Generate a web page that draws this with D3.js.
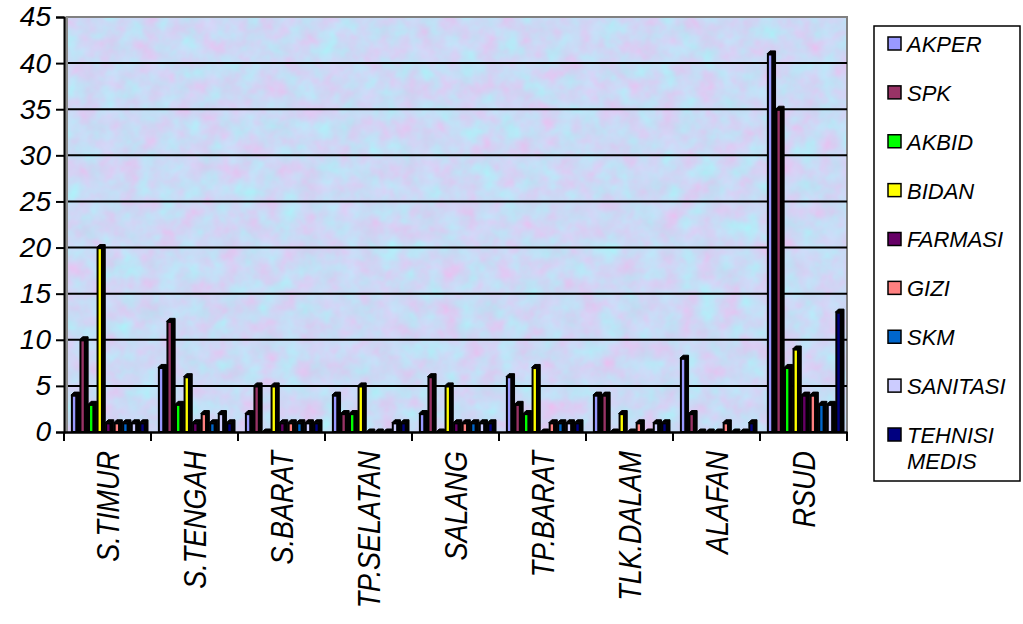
<!DOCTYPE html>
<html>
<head>
<meta charset="utf-8">
<script src="https://cdn.jsdelivr.net/npm/d3@7"></script>
<style>
  body { margin: 0; background: #fff; }
  svg { display: block; font-family: "Liberation Sans", Arial, sans-serif; }
</style>
</head>
<body>
<div id="chart"></div>
<script>
// kecamatan / unit
var categories = ["S.TIMUR", "S.TENGAH", "S.BARAT", "TP.SELATAN", "SALANG", "TP.BARAT", "TLK.DALAM", "ALAFAN", "RSUD"];
var seriesNames = ["AKPER", "SPK", "AKBID", "BIDAN", "FARMASI", "GIZI", "SKM", "SANITASI", "TEHNISI MEDIS"];
var seriesColors = ["#9999ff", "#993366", "#00ff00", "#ffff00", "#660066", "#ff8080", "#0066cc", "#ccccff", "#000080"];

// one array per series, in category order
var akper    = [4, 7, 2, 4, 2, 6, 4, 8, 41];
var spk      = [10, 12, 5, 2, 6, 3, 4, 2, 35];
var akbid    = [3, 3, 0, 2, 0, 2, 0, 0, 7];
var bidan    = [20, 6, 5, 5, 5, 7, 2, 0, 9];
var farmasi  = [1, 1, 1, 0, 1, 0, 0, 0, 4];
var gizi     = [1, 2, 1, 0, 1, 1, 1, 1, 4];
var skm      = [1, 1, 1, 0, 1, 1, 0, 0, 3];
var sanitasi = [1, 2, 1, 1, 1, 1, 1, 0, 3];
var tehnisi  = [1, 1, 1, 1, 1, 1, 1, 1, 13];
var yTicks = [0, 5, 10, 15, 20, 25, 30, 35, 40, 45];

var seriesValues = [akper, spk, akbid, bidan, farmasi, gizi, skm, sanitasi, tehnisi];

var W = 1023, H = 624;
var plot = {left: 64, right: 847, top: 17, bottom: 432};
var depth = 3;

var svg = d3.select("#chart").append("svg")
    .attr("width", W)
    .attr("height", H);

// mottled background texture
var defs = svg.append("defs");
var filt = defs.append("filter")
    .attr("id", "tex")
    .attr("x", 0).attr("y", 0).attr("width", "100%").attr("height", "100%")
    .attr("color-interpolation-filters", "sRGB");
filt.append("feTurbulence")
    .attr("type", "fractalNoise")
    .attr("baseFrequency", "0.05")
    .attr("numOctaves", 3)
    .attr("seed", 7);
filt.append("feColorMatrix")
    .attr("type", "matrix")
    .attr("values",
        "0.22 -0.12 0 0 0.745 " +
        "-0.14 0.14 0 0 0.850 " +
        "0 0.05 0 0 0.935 " +
        "0 0 0 0 1");

var x = d3.scaleBand()
    .domain(categories)
    .range([plot.left, plot.right]);

var xs = d3.scaleBand()
    .domain(seriesNames)
    .range([7, 84]);

var y = d3.scaleLinear()
    .domain([0, 45])
    .range([plot.bottom, plot.top]);

// plot background
svg.append("rect")
    .attr("x", plot.left + 3)
    .attr("y", plot.top)
    .attr("width", plot.right - plot.left - 3)
    .attr("height", plot.bottom - plot.top)
    .attr("filter", "url(#tex)");

// border: gray top/right, gray left wall
svg.append("path")
    .attr("d", "M" + (plot.left + 2) + "," + plot.top + "H" + plot.right + "V" + plot.bottom)
    .attr("fill", "none")
    .attr("stroke", "#808080")
    .attr("stroke-width", 2);
svg.append("rect")
    .attr("x", plot.left)
    .attr("y", plot.top)
    .attr("width", 4)
    .attr("height", plot.bottom - plot.top)
    .attr("fill", "#8c8c8c");

// gridlines
svg.append("g")
    .selectAll("line")
    .data(yTicks.filter(function(d) { return d > 0 && d < 45; }))
    .enter().append("line")
    .attr("x1", plot.left + 4)
    .attr("x2", plot.right)
    .attr("y1", function(d) { return y(d); })
    .attr("y2", function(d) { return y(d); })
    .attr("stroke", "#000")
    .attr("stroke-width", 2);

// y axis
var yAxis = d3.axisLeft(y)
    .tickValues(yTicks)
    .tickSize(8)
    .tickPadding(5);
var gy = svg.append("g")
    .attr("transform", "translate(" + plot.left + ",0)")
    .call(yAxis);
gy.select(".domain").attr("stroke", "#000").attr("stroke-width", 2);
gy.selectAll(".tick line").attr("stroke", "#000").attr("stroke-width", 2);
gy.selectAll(".tick text")
    .attr("font-size", 28)
    .attr("font-style", "italic")
    .attr("font-family", "Liberation Sans, Arial, sans-serif")
    .attr("fill", "#000");

// bars
var barData = [];
categories.forEach(function(c, ci) {
    seriesNames.forEach(function(s, si) {
        barData.push({cat: c, ser: s, value: seriesValues[si][ci], color: seriesColors[si]});
    });
});

var bars = svg.append("g").selectAll("g.bar")
    .data(barData)
    .enter().append("g")
    .attr("class", "bar");

bars.append("path")
    .attr("fill", "#000")
    .attr("stroke", "#000")
    .attr("stroke-width", 1)
    .attr("d", function(d) {
        var x0 = x(d.cat) + xs(d.ser), bw = xs.bandwidth();
        var yv = y(d.value), y0 = y(0);
        return "M" + x0 + "," + yv +
            "L" + (x0 + depth) + "," + (yv - depth) +
            "H" + (x0 + bw) +
            "V" + y0 +
            "H" + (x0 + bw - depth) +
            "V" + yv + "Z";
    });

bars.filter(function(d) { return d.value > 0; })
    .append("rect")
    .attr("x", function(d) { return x(d.cat) + xs(d.ser) + 0.9; })
    .attr("y", function(d) { return y(d.value) + 0.6; })
    .attr("width", xs.bandwidth() - depth - 1.2)
    .attr("height", function(d) { return y(0) - y(d.value) - 0.6; })
    .attr("fill", function(d) { return d.color; })
    .attr("stroke", "#000")
    .attr("stroke-width", 2);

// floor + x axis
var xAxis = d3.axisBottom(x)
    .tickSize(0)
    .tickFormat("");
var gx = svg.append("g")
    .attr("transform", "translate(0," + plot.bottom + ")")
    .call(xAxis);
gx.select(".domain").attr("stroke", "#000").attr("stroke-width", 2.5);

var bounds = categories.map(function(c) { return x(c); }).concat([plot.right]);
svg.append("g").selectAll("line")
    .data(bounds)
    .enter().append("line")
    .attr("x1", function(d) { return d; })
    .attr("x2", function(d) { return d; })
    .attr("y1", plot.bottom)
    .attr("y2", plot.bottom + 9)
    .attr("stroke", "#000")
    .attr("stroke-width", 2);

// category labels, slightly condensed along the text
svg.append("g").selectAll("text")
    .data(categories)
    .enter().append("text")
    .attr("transform", function(d) {
        return "translate(" + (x(d) + x.bandwidth() / 2 + 11) + "," + (plot.bottom + 19) + ") rotate(-90) scale(0.87,1)";
    })
    .attr("text-anchor", "end")
    .attr("font-size", 31)
    .attr("font-style", "italic")
    .attr("fill", "#000")
    .text(function(d) { return d; });

// legend
var leg = svg.append("g");
leg.append("rect")
    .attr("x", 874)
    .attr("y", 26)
    .attr("width", 146)
    .attr("height", 455)
    .attr("fill", "#fff")
    .attr("stroke", "#000")
    .attr("stroke-width", 1.5);

var legY = d3.scalePoint()
    .domain(seriesNames)
    .range([44, 435]);

var items = leg.selectAll("g.item")
    .data(seriesNames)
    .enter().append("g")
    .attr("class", "item")
    .attr("transform", function(d) { return "translate(0," + legY(d) + ")"; });

items.append("rect")
    .attr("x", 888)
    .attr("y", -7)
    .attr("width", 13)
    .attr("height", 13)
    .attr("fill", function(d, i) { return seriesColors[i]; })
    .attr("stroke", "#000")
    .attr("stroke-width", 1.5);

items.append("text")
    .attr("x", 907)
    .attr("y", 0)
    .attr("font-size", 22)
    .attr("font-style", "italic")
    .attr("fill", "#000")
    .each(function(d) {
        var parts = d.split(" ");
        var t = d3.select(this);
        parts.forEach(function(p, k) {
            t.append("tspan")
                .attr("x", 907)
                .attr("dy", k === 0 ? "0.36em" : "1.2em")
                .text(p);
        });
    });
</script>
</body>
</html>
